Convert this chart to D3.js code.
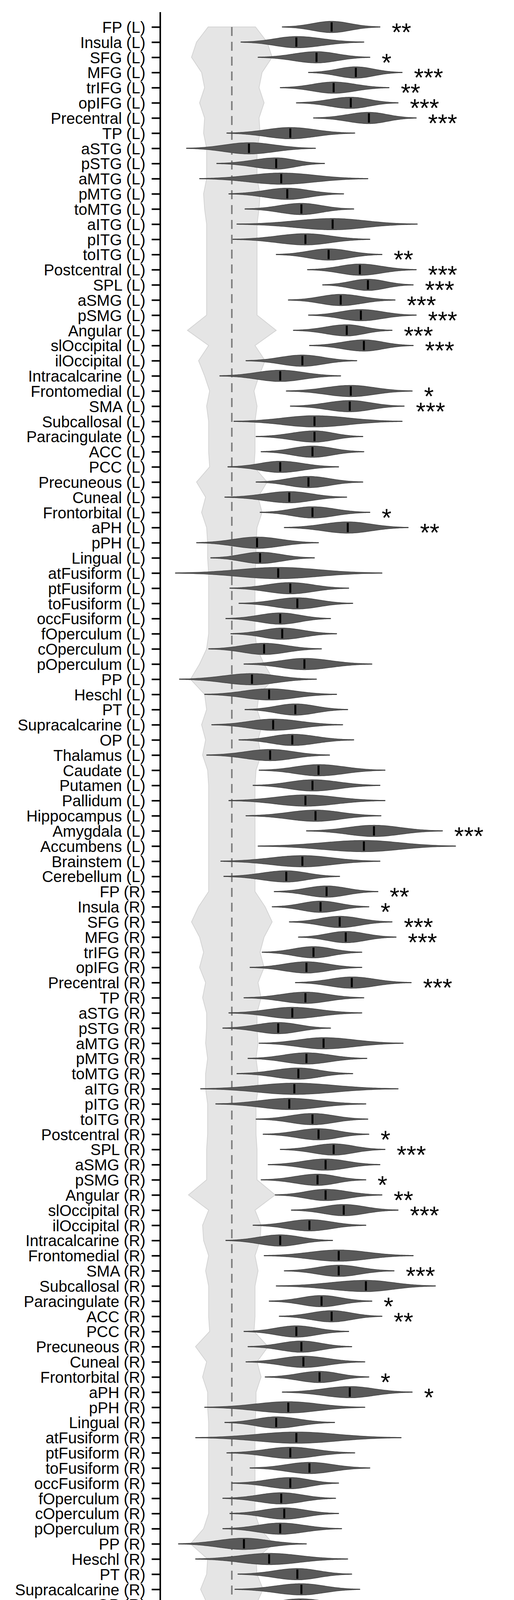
<!DOCTYPE html>
<html>
<head>
<meta charset="utf-8">
<script src="https://cdn.jsdelivr.net/npm/d3@7"></script>
<style>
  body { margin: 0; background: #fff; }
  text { font-family: "Liberation Sans", Arial, sans-serif; }
</style>
</head>
<body>
<svg id="chart" width="1315" height="4657"></svg>
<script>
// regions, left hemisphere first then right
var regions = ["FP","Insula","SFG","MFG","trIFG","opIFG","Precentral","TP","aSTG","pSTG","aMTG","pMTG","toMTG","aITG","pITG","toITG","Postcentral","SPL","aSMG","pSMG","Angular","slOccipital","ilOccipital","Intracalcarine","Frontomedial","SMA","Subcallosal","Paracingulate","ACC","PCC","Precuneous","Cuneal","Frontorbital","aPH","pPH","Lingual","atFusiform","ptFusiform","toFusiform","occFusiform","fOperculum","cOperculum","pOperculum","PP","Heschl","PT","Supracalcarine","OP","Thalamus","Caudate","Putamen","Pallidum","Hippocampus","Amygdala","Accumbens","Brainstem","Cerebellum"];
var labels = regions.map(function(r){ return r + " (L)"; }).concat(regions.map(function(r){ return r + " (R)"; }));

// observed distribution per region: min, median, max
var minVals = [.550,.509,.526,.576,.548,.564,.581,.495,.455,.485,.468,.497,.513,.505,.501,.544,.575,.590,.556,.576,.561,.577,.514,.488,.554,.558,.502,.524,.529,.496,.524,.493,.528,.552,.465,.479,.444,.498,.507,.494,.499,.477,.512,.448,.473,.513,.480,.507,.475,.527,.521,.497,.514,.574,.526,.489,.492,
  .542,.540,.557,.566,.530,.518,.563,.512,.497,.491,.527,.516,.505,.469,.484,.524,.531,.548,.536,.529,.543,.559,.521,.494,.532,.552,.544,.537,.547,.512,.516,.514,.533,.550,.473,.493,.464,.495,.518,.500,.491,.498,.491,.447,.464,.506,.503,.510,.496,.505,.540,.497,.530,.582,.543,.498,.519];
var medVals = [.599,.564,.584,.623,.601,.618,.636,.558,.517,.544,.549,.555,.569,.600,.573,.596,.627,.635,.608,.628,.614,.631,.570,.548,.618,.617,.582,.582,.580,.548,.576,.557,.580,.615,.525,.528,.546,.558,.565,.548,.550,.532,.572,.520,.537,.563,.541,.560,.538,.586,.580,.573,.583,.641,.631,.570,.554,
  .594,.588,.607,.613,.581,.574,.619,.573,.560,.546,.591,.574,.566,.562,.557,.580,.586,.601,.593,.585,.593,.611,.577,.548,.606,.606,.633,.589,.599,.564,.569,.571,.587,.617,.556,.544,.564,.558,.577,.558,.549,.552,.548,.512,.537,.565,.569,.568,.558,.570,.600,.568,.593,.654,.642,.566,.572];
var maxVals = [.647,.631,.637,.669,.656,.665,.683,.622,.583,.592,.635,.611,.621,.684,.637,.649,.683,.680,.662,.683,.659,.680,.624,.608,.679,.671,.669,.630,.631,.606,.630,.614,.637,.675,.586,.582,.649,.616,.620,.598,.604,.589,.639,.584,.604,.615,.610,.621,.597,.652,.647,.652,.648,.709,.722,.647,.607,
  .645,.636,.659,.663,.629,.629,.678,.631,.629,.598,.670,.634,.620,.665,.633,.635,.636,.652,.647,.633,.649,.665,.633,.600,.680,.661,.702,.639,.649,.616,.619,.632,.636,.679,.632,.602,.668,.622,.637,.606,.603,.606,.609,.574,.615,.619,.627,.631,.619,.628,.674,.647,.649,.719,.740,.641,.620];
// significance markers
var stars = ["**","","*","***","**","***","***","","","","","","","","","**","***","***","***","***","***","***","","","*","***","","","","","","","*","**","","","","","","","","","","","","","","","","","","","","***","","","",
  "**","*","***","***","","","***","","","","","","","","","","*","***","","*","**","***","","","","***","","*","**","","","","*","*","","","","","","","","","","","","","","","","","","*","","","***","","",""];
// null distribution: half-width around chance per region
var nullHalf = [.0235,.035,.040,.030,.027,.032,.027,.028,.025,.025,.025,.028,.027,.025,.025,.025,.025,.025,.025,.025,.044,.023,.033,.027,.022,.025,.023,.023,.023,.022,.035,.026,.030,.025,.024,.024,.023,.023,.023,.023,.023,.025,.032,.041,.027,.025,.030,.026,.029,.024,.023,.023,.023,.023,.023,.023,.023,
  .023,.033,.040,.032,.028,.032,.026,.029,.025,.025,.026,.024,.026,.026,.024,.024,.024,.025,.025,.025,.043,.023,.029,.028,.023,.026,.023,.023,.023,.022,.036,.025,.029,.024,.024,.023,.023,.023,.023,.023,.023,.023,.028,.041,.024,.025,.031,.024,.029,.023,.023,.023,.023,.023,.023,.023,.023];
var chance = 0.5;
var xTicks = [0.5, 0.6, 0.7];

var svg = d3.select("#chart");
var x = d3.scaleLinear().domain([0.429, 0.771]).range([410, 1292]);
var y = d3.scalePoint().domain(labels).range([69, 4457]);
var halfH = 14.5;

// null band
var band = d3.area()
  .y(function(d, i){ return y(labels[i]); })
  .x0(function(d){ return x(chance - d); })
  .x1(function(d){ return x(chance + d); });
svg.append("path").datum(nullHalf).attr("d", band)
  .attr("fill", "#e5e5e5").attr("stroke", "#d4d4d4").attr("stroke-width", 2);

svg.append("line")
  .attr("x1", x(chance)).attr("x2", x(chance))
  .attr("y1", y(labels[0])).attr("y2", y(labels[labels.length - 1]))
  .attr("stroke", "#808080").attr("stroke-width", 4).attr("stroke-dasharray", "23,15");

// violins
labels.forEach(function(lab, i) {
  var cy = y(lab), mn = minVals[i], md = medVals[i], mx = maxVals[i];
  var sdL = (md - mn) / 2.6, sdR = (mx - md) / 2.6;
  var pts = d3.range(0, 61).map(function(k){ return mn + (mx - mn) * k / 60; });
  var dens = function(v){ var s = v < md ? sdL : sdR; return Math.exp(-0.5 * Math.pow((v - md) / s, 2)); };
  var g = svg.append("g");
  g.append("line").attr("x1", x(mn)).attr("x2", x(mx)).attr("y1", cy).attr("y2", cy)
    .attr("stroke", "#4a4a4a").attr("stroke-width", 2.5);
  var area = d3.area().x(function(v){ return x(v); })
    .y0(function(v){ return cy - halfH * dens(v); })
    .y1(function(v){ return cy + halfH * dens(v); })
    .curve(d3.curveBasis);
  g.append("path").datum(pts).attr("d", area)
    .attr("fill", "#595959").attr("stroke", "#444").attr("stroke-width", 1.5);
  g.append("line").attr("x1", x(md)).attr("x2", x(md)).attr("y1", cy - 12).attr("y2", cy + 12)
    .attr("stroke", "#000").attr("stroke-width", 5);
  if (stars[i]) {
    g.append("text").attr("x", x(mx) + 30).attr("y", cy + 36)
      .attr("font-size", 64).text(stars[i]);
  }
});

// axes
var yAxis = svg.append("g").attr("transform", "translate(410,0)")
  .call(d3.axisLeft(y).tickSize(22).tickPadding(16));
yAxis.select(".domain").attr("d", "M0,31V4536").attr("stroke-width", 4);
yAxis.selectAll(".tick line").attr("stroke-width", 4);
yAxis.selectAll(".tick text").attr("font-size", 40).attr("dy", "0.36em").attr("fill", "#000");

var xAxis = svg.append("g").attr("transform", "translate(0,4536)")
  .call(d3.axisBottom(x).tickValues(xTicks).tickFormat(d3.format(".1f")).tickSize(24).tickPadding(14));
xAxis.select(".domain").attr("d", "M410,0H1292").attr("stroke-width", 5);
xAxis.selectAll(".tick line").attr("stroke-width", 4);
xAxis.selectAll(".tick text").attr("font-size", 68).attr("fill", "#000");
yAxis.selectAll("text").attr("font-family", "Liberation Sans, Arial, sans-serif");
xAxis.selectAll("text").attr("font-family", "Liberation Sans, Arial, sans-serif");
</script>
</body>
</html>
